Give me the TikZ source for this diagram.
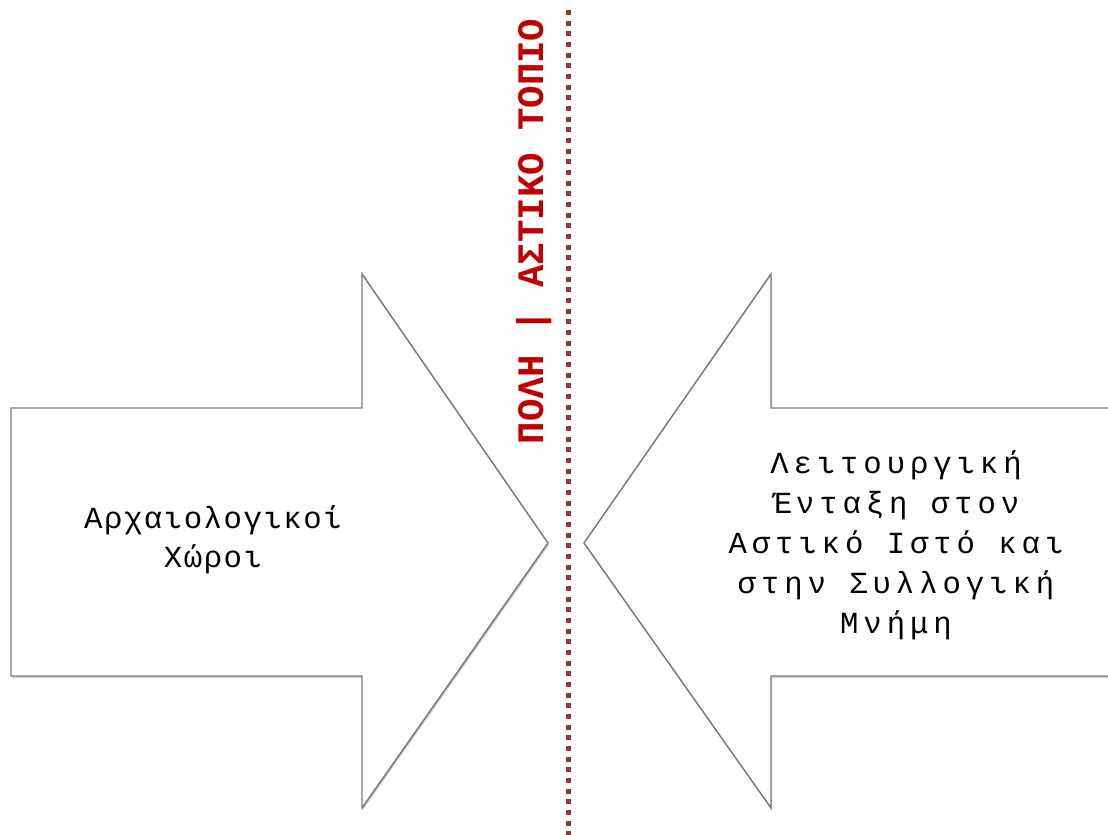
\documentclass[tikz,border=0pt]{standalone}
\usepackage{fontspec}
\usetikzlibrary{shadows}
\newfontfamily\monoleft[LetterSpace=5]{Liberation Mono}
\newfontfamily\monoright[LetterSpace=16]{Liberation Mono}
\newfontfamily\monotitle{Liberation Mono}
\definecolor{titlered}{RGB}{192,0,0}
\definecolor{dotline}{RGB}{150,54,52}
\definecolor{edge}{RGB}{120,120,120}

\begin{document}
\begin{tikzpicture}[x=0.75pt, y=-0.75pt,
    arrowshape/.style={draw=edge, line width=1.1pt, fill=white, line join=miter,
                       drop shadow={shadow xshift=0.8pt, shadow yshift=-1.5pt, opacity=0.3, fill=black!60}},
    leftlabel/.style={align=center, font=\monoleft\fontsize{23}{29}\selectfont},
    rightlabel/.style={align=center, font=\monoright\fontsize{23}{30}\selectfont},
    title/.style={rotate=90, anchor=base, text=titlered, font=\monotitle\bfseries\fontsize{28}{30}\selectfont},
    divider/.style={draw=dotline, line width=4pt, dash pattern=on 3.75pt off 4.25pt}
  ]
    \fill[white] (0,0) rectangle (1108,835);
    \useasboundingbox (0,0) rectangle (1108,835);

    % the two arrows
    \draw[arrowshape] (11,408) -- (362,408) -- (362,274) -- (548,543) -- (362,808) -- (362,676) -- (11,676) -- cycle;
    \draw[arrowshape] (1114,408) -- (771,408) -- (771,274) -- (584,543) -- (771,808) -- (771,676) -- (1114,676) -- cycle;

    \node[leftlabel] (sites) at (213,540) {Αρχαιολογικοί\\Χώροι};
    \node[rightlabel] (memory) at (896,545) {Λειτουργική\\Ένταξη στον\\Αστικό Ιστό και\\στην Συλλογική\\Μνήμη};

    % dividing line
    \coordinate (divtop) at (568.5,10);
    \coordinate (divbottom) at (568.5,835);
    \draw[divider] (divtop) -- (divbottom);

    \node[title] (city) at (543,231.5) {ΠΟΛΗ | ΑΣΤΙΚΟ ΤΟΠΙΟ};
  \end{tikzpicture}
\end{document}
